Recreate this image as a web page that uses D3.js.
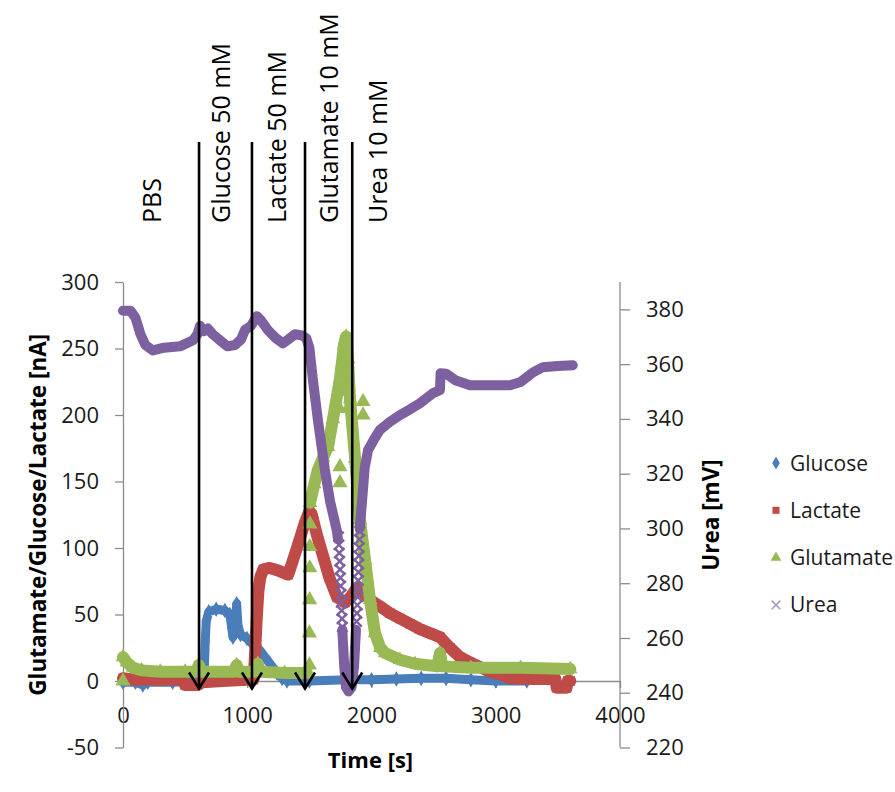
<!DOCTYPE html>
<html><head><meta charset="utf-8">
<script src="https://cdn.jsdelivr.net/npm/d3@7"></script>
<style>html,body{margin:0;padding:0;background:#fff;}svg{display:block;}</style>
</head><body>
<svg id="chart" width="895" height="792"></svg>
<script>
// ---- data (time [s], value); null = gap in the band ----
const glucose = [[0,-1],[100,-1],[160,-3],[200,-1],[400,-1],[600,0],[645,1],[655,10],[662,30],[670,45],[690,52],[750,54],[820,53],[860,50],[875,40],[885,33],[900,38],[915,58],[925,42],[945,35],[998,32],[1050,27],[1103,23],[1183,13],[1239,6],[1280,2],[1320,0],[1500,0],[1800,1],[2000,1],[2200,1.5],[2400,2],[2600,2],[2800,1],[3000,0],[3250,0]];
const lactate = [[0,2],[100,1],[300,1],[480,1],[500,-3],[600,-3],[640,-1],[800,0],[1000,1],[1050,1],[1060,15],[1075,45],[1090,68],[1105,78],[1130,84],[1180,85],[1250,83],[1330,80],[1400,100],[1460,118],[1500,128],[1520,125],[1560,110],[1610,94],[1660,78],[1722,63],[1787,59],[1840,64],[1880,70],[1910,70],[1950,65],[1988,61],[2070,56],[2149,51],[2229,47],[2310,43],[2390,39],[2470,36],[2551,33],[2632,25],[2712,18],[2793,14],[2873,10.5],[2950,7],[3034,5],[3115,2],[3300,1.5],[3480,1.5],[3490,-5],[3570,-5],[3580,0],[3600,0]];
const glutamate = [[0,18],[30,14],[80,10],[150,8],[300,7],[500,7],[590,7],[610,12],[630,7],[890,7],[915,12],[935,7],[1060,7],[1085,13],[1105,7],[1300,6],[1480,6],null,[1505,134],[1540,148],[1569,159],[1610,168],[1650,176],[1690,197],[1746,227],[1779,253],[1795,259],[1811,242],[1827,212],[1868,167],[1907,121],[1948,91],[1988,61],[2028,36],[2070,25],[2109,21],[2229,16],[2350,13],[2530,11],[2551,21],[2570,11],[2800,10],[3200,10],[3600,9]];
const glutamateScatter = [[0,0],[1500,12],[1500,36],[1502,61],[1503,85],[1504,101],[1505,118],[1746,161],[1746,149],[1740,205],[1755,218],[1765,238],[1775,228],[1790,232],[1800,218],[1812,205],[1932,210],[1932,200]];
const urea = [[0,379.5],[60,379.5],[100,377],[140,371],[180,367],[241,365],[330,366],[459,366.5],[563,368.7],[600,371],[620,374],[650,372],[684,373],[720,371],[781,368.7],[840,366.5],[901,367],[950,369],[982,372.5],[1030,374],[1078,377.5],[1110,376],[1167,372.4],[1230,369.5],[1288,367.6],[1330,369],[1384,370.9],[1440,370.5],[1475,369.5],[1500,366],[1529,354],[1569,339.5],[1626,321],[1666,310],[1722,299],[1730,296],null,[1765,263],[1780,250],[1795,242],[1815,240.5],[1840,242],[1860,250],[1875,263],null,[1905,300],[1924,310],[1945,322],[1972,328.6],[2020,332.5],[2068,336],[2150,339],[2229,341.4],[2310,343.5],[2390,345.7],[2495,349.4],[2551,350.5],[2556,356.7],[2600,356.5],[2680,354],[2793,352.3],[2950,352.3],[3115,352.3],[3200,353.5],[3300,357],[3380,358.9],[3500,359.3],[3620,359.6]];
const ureaScatter = [[1735,297],[1738,294],[1741,291],[1744,288],[1747,285],[1750,282],[1752,279],[1755,276],[1757,273],[1760,270],[1763,267],[1766,264],[1880,266],[1883,269],[1886,272],[1889,275],[1891,278],[1893,281],[1895,284],[1897,287],[1899,290],[1901,293],[1903,296],[1905,299]];
const additionTimes = [612, 1038, 1465, 1845];
const annotationLabels = ["PBS", "Glucose 50 mM", "Lactate 50 mM", "Glutamate 10 mM", "Urea 10 mM"];
const xTicks = [0, 1000, 2000, 3000, 4000];
const yLeftTicks = [-50, 0, 50, 100, 150, 200, 250, 300];
const yRightTicks = [220, 240, 260, 280, 300, 320, 340, 360, 380];
const seriesNames = ["Glucose", "Lactate", "Glutamate", "Urea"];

// ---- layout ----
const svg = d3.select("#chart");
const FONT = "'Open Sans', 'Noto Sans', sans-serif";
const AXIS = "#8c8c8c";
const colors = {Glucose:"#4a7ebb", Lactate:"#be4b48", Glutamate:"#98b954", Urea:"#7d60a0"};
const plain = d => String(d);

const x = d3.scaleLinear().domain([0, 4000]).range([123, 620]);
const yL = d3.scaleLinear().domain([-50, 300]).range([747.5, 282]);
const yR = d3.scaleLinear().domain([220, 390]).range([747.5, 282]);

function styleAxis(g) {
  g.select(".domain").attr("stroke", AXIS).attr("stroke-width", 1.3);
  g.selectAll(".tick line").attr("stroke", AXIS).attr("stroke-width", 1.3);
  g.selectAll("text").attr("font-family", FONT).attr("font-size", 22).attr("fill", "#1a1a1a");
}

// x axis tick labels first (so the right axis line is drawn over "4000")
const gx = svg.append("g").attr("transform", `translate(0,${yL(0)})`)
  .call(d3.axisBottom(x).tickValues(xTicks).tickSize(7).tickSizeOuter(0).tickPadding(19).tickFormat(plain));
styleAxis(gx);

const gl = svg.append("g").attr("transform", `translate(${x(0)},0)`)
  .call(d3.axisLeft(yL).tickValues(yLeftTicks).tickSize(8).tickSizeOuter(0).tickPadding(16).tickFormat(plain));
styleAxis(gl);

const gr = svg.append("g").attr("transform", `translate(${x(4000)},0)`)
  .call(d3.axisRight(yR).tickValues(yRightTicks).tickSize(10).tickSizeOuter(0).tickPadding(16).tickFormat(plain));
styleAxis(gr);
gr.select(".domain").attr("d", `M0,${yR(390)}V${yR(220)}`);

// ---- series ----
function band(data, yScale, color, width) {
  const line = d3.line().defined(d => d !== null)
    .x(d => x(d[0])).y(d => yScale(d[1])).curve(d3.curveLinear);
  svg.append("path").datum(data).attr("d", line).attr("fill", "none")
    .attr("stroke", color).attr("stroke-width", width)
    .attr("stroke-linejoin", "round").attr("stroke-linecap", "round");
}
function markers(data, yScale, color, type, size, stroke) {
  const sym = d3.symbol().type(type).size(size);
  const sel = svg.append("g").selectAll("path").data(data.filter(d => d !== null)).join("path")
    .attr("transform", d => `translate(${x(d[0])},${yScale(d[1])})`)
    .attr("d", sym);
  if (stroke) sel.attr("fill", "none").attr("stroke", color).attr("stroke-width", stroke);
  else sel.attr("fill", color);
}

band(glucose, yL, colors.Glucose, 9);
markers(glucose, yL, colors.Glucose, d3.symbolDiamond, 70);

band(lactate, yL, colors.Lactate, 12);
markers(lactate, yL, colors.Lactate, d3.symbolSquare, 90);

band(glutamate, yL, colors.Glutamate, 12);
markers(glutamate, yL, colors.Glutamate, d3.symbolTriangle, 90);
markers(glutamateScatter, yL, colors.Glutamate, d3.symbolTriangle, 100);

band(urea, yR, colors.Urea, 10);
markers(ureaScatter, yR, colors.Urea, d3.symbolX, 70, 2.4);

// ---- addition arrows ----
const arrowTop = 142, arrowTip = 688.5;
additionTimes.forEach(t => {
  const ax = x(t);
  svg.append("line").attr("x1", ax).attr("x2", ax).attr("y1", arrowTop).attr("y2", arrowTip)
    .attr("stroke", "#000").attr("stroke-width", 2.6);
  svg.append("path").attr("d", `M${ax-10},${arrowTip-16}L${ax},${arrowTip}L${ax+10},${arrowTip-16}`)
    .attr("fill", "none").attr("stroke", "#000").attr("stroke-width", 2.6);
});

// annotation labels (rotated), placed relative to time positions
const labelTimes = [233, 785, 1240, 1660, 2055];
annotationLabels.forEach((lab, i) => {
  svg.append("text").attr("transform", `translate(${x(labelTimes[i])},223) rotate(-90)`)
    .attr("dy", "0.36em").attr("text-anchor", "start")
    .attr("font-family", FONT).attr("font-size", 25).attr("fill", "#000").text(lab);
});

// ---- titles ----
svg.append("text").attr("transform", `translate(38,${(yL(300)+yL(-50))/2}) rotate(-90)`)
  .attr("text-anchor", "middle").attr("dy", "0.36em")
  .attr("font-family", FONT).attr("font-size", 22.5).attr("font-weight", "bold").attr("fill", "#000")
  .text("Glutamate/Glucose/Lactate [nA]");
svg.append("text").attr("x", 370.5).attr("y", 768).attr("text-anchor", "middle")
  .attr("font-family", FONT).attr("font-size", 22).attr("font-weight", "bold").attr("fill", "#000")
  .text("Time [s]");
svg.append("text").attr("transform", `translate(711,515) rotate(-90)`)
  .attr("text-anchor", "middle").attr("dy", "0.36em")
  .attr("font-family", FONT).attr("font-size", 22.5).attr("font-weight", "bold").attr("fill", "#000")
  .text("Urea [mV]");

// ---- legend ----
const legendTypes = [d3.symbolDiamond, d3.symbolSquare, d3.symbolTriangle, d3.symbolX];
seriesNames.forEach((name, i) => {
  const ly = 463 + i * 47.3;
  const p = svg.append("path").attr("transform", `translate(776,${ly})`)
    .attr("d", d3.symbol().type(legendTypes[i]).size(50)());
  if (i === 3) p.attr("fill", "none").attr("stroke", "#a998c4").attr("stroke-width", 1.5);
  else p.attr("fill", colors[name]);
  svg.append("text").attr("x", 790).attr("y", ly).attr("dy", "0.36em")
    .attr("font-family", FONT).attr("font-size", 21).attr("fill", "#1a1a1a").text(name);
});
</script>
</body></html>
